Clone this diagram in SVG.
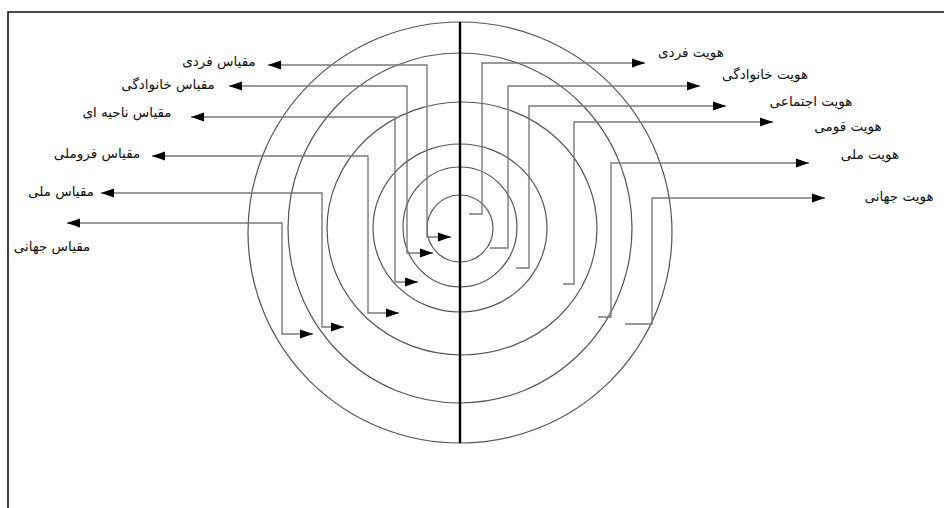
<svg xmlns="http://www.w3.org/2000/svg" width="944" height="508" viewBox="0 0 944 508">
<style>
.ring{fill:none;stroke:#555;stroke-width:1.2}
.c{fill:none;stroke:#7a7a7a;stroke-width:1.4}
.lbl{font-family:"DejaVu Sans",sans-serif;font-size:13.5px;fill:#111;text-anchor:middle}
</style>
<defs>
<marker id="ah" markerUnits="userSpaceOnUse" markerWidth="14" markerHeight="10" refX="13" refY="5" orient="auto-start-reverse">
<path d="M0,0.5 L13,5 L0,9.5 Z" fill="#000"/>
</marker>
</defs>
<rect width="944" height="508" fill="#fff"/>
<path d="M8,508 V12 H944" fill="none" stroke="#111" stroke-width="1.6"/>
<g id="rings">
<ellipse class="ring" cx="460" cy="232.5" rx="212" ry="210.5"/>
<ellipse class="ring" cx="460" cy="228" rx="172" ry="175"/>
<ellipse class="ring" cx="462" cy="228.5" rx="135" ry="126.5"/>
<ellipse class="ring" cx="460" cy="228" rx="87" ry="84"/>
<ellipse class="ring" cx="460" cy="227" rx="57" ry="60"/>
<ellipse class="ring" cx="460" cy="228.5" rx="33" ry="33.5"/>
</g>
<line id="axis" x1="460" y1="22" x2="460" y2="443" stroke="#000" stroke-width="2.4"/>
<g id="connectors">
<path class="c" d="M268,65 H427 V237 H451" marker-start="url(#ah)" marker-end="url(#ah)"/>
<path class="c" d="M229,86 H407 V253 H433" marker-start="url(#ah)" marker-end="url(#ah)"/>
<path class="c" d="M191,117 H395 V282 H418" marker-start="url(#ah)" marker-end="url(#ah)"/>
<path class="c" d="M152,156 H368 V313 H399" marker-start="url(#ah)" marker-end="url(#ah)"/>
<path class="c" d="M101,193 H322 V327 H344" marker-start="url(#ah)" marker-end="url(#ah)"/>
<path class="c" d="M67,223 H282 V334 H313" marker-start="url(#ah)" marker-end="url(#ah)"/>
<path class="c" d="M469,214 H482 V63 H645" marker-end="url(#ah)"/>
<path class="c" d="M490,248 H508 V86 H700" marker-end="url(#ah)"/>
<path class="c" d="M516,268 H529 V106 H726" marker-end="url(#ah)"/>
<path class="c" d="M563,284 H574 V122 H773" stroke="#222" marker-end="url(#ah)"/>
<path class="c" d="M598,317 H611 V163 H809" marker-end="url(#ah)"/>
<path class="c" d="M625,324 H652 V198 H825" marker-end="url(#ah)"/>
</g>
<g id="left-labels">
<text id="l1" class="lbl" x="219" y="66" direction="rtl">مقیاس فردی</text>
<text id="l2" class="lbl" x="168" y="89" direction="rtl">مقیاس خانوادگی</text>
<text id="l3" class="lbl" x="127" y="117" direction="rtl">مقیاس ناحیه ای</text>
<text id="l4" class="lbl" x="97" y="158" direction="rtl">مقیاس فروملی</text>
<text id="l5" class="lbl" x="61" y="196" direction="rtl">مقیاس ملی</text>
<text id="l6" class="lbl" x="52" y="251" direction="rtl">مقیاس جهانی</text>
</g>
<g id="right-labels">
<text id="r1" class="lbl" x="691" y="57" direction="rtl">هویت فردی</text>
<text id="r2" class="lbl" x="765" y="79" direction="rtl">هویت خانوادگی</text>
<text id="r3" class="lbl" x="811" y="106" direction="rtl">هویت اجتماعی</text>
<text id="r4" class="lbl" x="848" y="131" direction="rtl">هویت قومی</text>
<text id="r5" class="lbl" x="870" y="159" direction="rtl">هویت ملی</text>
<text id="r6" class="lbl" x="899" y="201" direction="rtl">هویت جهانی</text>
</g>
</svg>
